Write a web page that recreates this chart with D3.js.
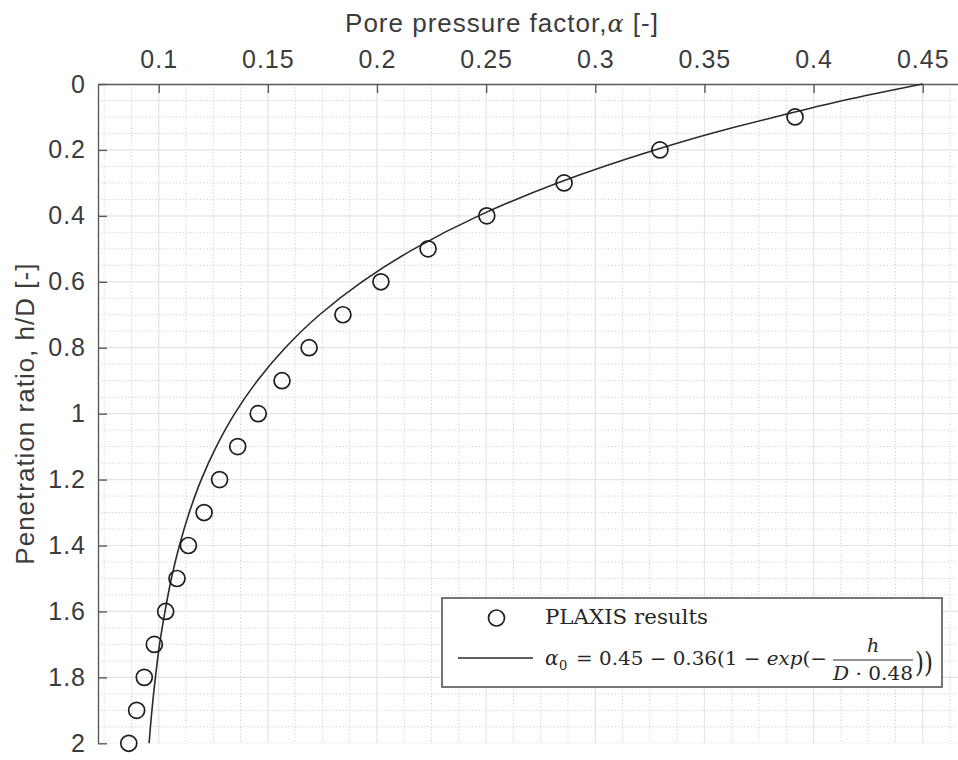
<!DOCTYPE html>
<html>
<head>
<meta charset="utf-8">
<script src="https://cdn.jsdelivr.net/npm/d3@7"></script>
<style>
  body { margin: 0; background: #fff; }
  svg { display: block; }
</style>
</head>
<body>
<svg id="chart"></svg>
<script>
  // Chart size.
  const width = 958;
  const height = 760;

  // PLAXIS results (depth ratio h/D and pore pressure factor).
  const plaxisDepth = [0.1, 0.2, 0.3, 0.4, 0.5, 0.6, 0.7, 0.8, 0.9, 1.0,
                       1.1, 1.2, 1.3, 1.4, 1.5, 1.6, 1.7, 1.8, 1.9, 2.0];
  const plaxisAlpha = [0.3915, 0.3296, 0.2857, 0.2503, 0.2234, 0.2018, 0.1844, 0.1689, 0.1565, 0.1456,
                       0.1362, 0.1279, 0.1208, 0.1136, 0.1084, 0.1032, 0.0980, 0.0934, 0.0899, 0.0863];

  // Fitted curve.
  const curveDepth = [0, 0.05, 0.1, 0.15, 0.2, 0.3, 0.4, 0.5, 0.6, 0.7, 0.8, 0.9, 1.0,
                      1.1, 1.2, 1.3, 1.4, 1.5, 1.6, 1.7, 1.8, 1.9, 2.0];
  const curveAlpha = [0.45, 0.4135, 0.3823, 0.3530, 0.3273, 0.2827, 0.2465, 0.2170, 0.1931, 0.1737, 0.1580, 0.1452, 0.1348,
                      0.1264, 0.1195, 0.1140, 0.1095, 0.1058, 0.1029, 0.1004, 0.0985, 0.0969, 0.0956];

  // Tick labels.
  const xTicks = [0.1, 0.15, 0.2, 0.25, 0.3, 0.35, 0.4, 0.45];
  const xTickLabels = ["0.1", "0.15", "0.2", "0.25", "0.3", "0.35", "0.4", "0.45"];
  const yTicks = [0, 0.2, 0.4, 0.6, 0.8, 1, 1.2, 1.4, 1.6, 1.8, 2];
  const yTickLabels = ["0", "0.2", "0.4", "0.6", "0.8", "1", "1.2", "1.4", "1.6", "1.8", "2"];

  const plotLeft = 98, plotTop = 84, plotBottom = 743.3;

  const x = d3.scaleLinear().domain([0.0722, 0.47]).range([plotLeft, plotLeft + 0.3978 * 2183]);
  const y = d3.scaleLinear().domain([0, 2]).range([plotTop, plotBottom]);

  const svg = d3.select("#chart")
      .attr("width", width)
      .attr("height", height)
      .attr("viewBox", `0 0 ${width} ${height}`);

  svg.append("defs").append("clipPath").attr("id", "plot")
    .append("rect")
      .attr("x", plotLeft).attr("y", plotTop)
      .attr("width", x.range()[1] - plotLeft).attr("height", plotBottom - plotTop);

  // Grid: minor dotted, then major solid.
  const xMinor = d3.range(0, 33).map(i => 0.075 + i * 0.0125)
      .filter(v => v < 0.47 && !xTicks.some(t => Math.abs(t - v) < 1e-6));
  const yMinor = d3.range(0, 41).map(i => i * 0.05)
      .filter(v => !yTicks.some(t => Math.abs(t - v) < 1e-6));

  const grid = svg.append("g").attr("clip-path", "url(#plot)");
  grid.selectAll(".xm").data(xMinor).join("line")
      .attr("x1", d => x(d)).attr("x2", d => x(d))
      .attr("y1", plotTop).attr("y2", plotBottom)
      .attr("stroke", "#cdcdcd").attr("stroke-dasharray", "1.2,2.2");
  grid.selectAll(".ym").data(yMinor).join("line")
      .attr("x1", plotLeft).attr("x2", width)
      .attr("y1", d => y(d)).attr("y2", d => y(d))
      .attr("stroke", "#cdcdcd").attr("stroke-dasharray", "1.2,2.2");
  grid.selectAll(".xg").data(xTicks).join("line")
      .attr("x1", d => x(d)).attr("x2", d => x(d))
      .attr("y1", plotTop).attr("y2", plotBottom)
      .attr("stroke", "#e4e4e4").attr("stroke-width", 1.2);
  grid.selectAll(".yg").data(yTicks).join("line")
      .attr("x1", plotLeft).attr("x2", width)
      .attr("y1", d => y(d)).attr("y2", d => y(d))
      .attr("stroke", "#e4e4e4").attr("stroke-width", 1.2);

  // Axes.
  const axisColor = "#5a5a5a";
  const textColor = "#3c3c3c";
  const tickFont = "Liberation Sans, Arial, sans-serif";

  const xAxis = svg.append("g")
      .attr("transform", `translate(0,${plotTop})`)
      .call(d3.axisTop(x).tickValues(xTicks).tickSizeInner(-9).tickSizeOuter(0).tickPadding(16)
        .tickFormat((d, i) => xTickLabels[i]));
  const yAxis = svg.append("g")
      .attr("transform", `translate(${plotLeft},0)`)
      .call(d3.axisLeft(y).tickValues(yTicks).tickSizeInner(-9).tickSizeOuter(0).tickPadding(12)
        .tickFormat((d, i) => yTickLabels[i]));

  [xAxis, yAxis].forEach(a => {
    a.select(".domain").attr("stroke", axisColor).attr("stroke-width", 1.4);
    a.selectAll(".tick line").attr("stroke", axisColor).attr("stroke-width", 1.4);
    a.selectAll(".tick text")
      .attr("fill", textColor)
      .style("font-family", tickFont)
      .style("font-size", "25px")
      .style("letter-spacing", "1px");
  });

  // Axis titles.
  const xTitle = svg.append("text")
      .attr("x", 502).attr("y", 32)
      .attr("text-anchor", "middle")
      .attr("fill", textColor)
      .style("font-family", tickFont)
      .style("font-size", "26px")
      .style("letter-spacing", "1px");
  xTitle.append("tspan").text("Pore pressure factor,");
  xTitle.append("tspan").style("font-family", "DejaVu Serif, serif").style("font-style", "italic")
      .style("font-size", "24px").text("α");
  xTitle.append("tspan").text(" [-]");

  svg.append("text")
      .attr("transform", `translate(34,${(plotTop + plotBottom) / 2}) rotate(-90)`)
      .attr("text-anchor", "middle")
      .attr("fill", textColor)
      .style("font-family", tickFont)
      .style("font-size", "26px")
      .style("letter-spacing", "1px")
      .text("Penetration ratio, h/D [-]");

  // Fitted curve.
  const line = d3.line()
      .x((d, i) => x(curveAlpha[i]))
      .y(d => y(d))
      .curve(d3.curveMonotoneY);
  svg.append("path")
      .datum(curveDepth)
      .attr("d", line)
      .attr("fill", "none")
      .attr("stroke", "#2a2a2a")
      .attr("stroke-width", 1.6);

  // PLAXIS points.
  svg.append("g").selectAll("circle")
    .data(plaxisDepth)
    .join("circle")
      .attr("cx", (d, i) => x(plaxisAlpha[i]))
      .attr("cy", d => y(d))
      .attr("r", 8)
      .attr("fill", "none")
      .attr("stroke", "#1e1e1e")
      .attr("stroke-width", 1.7);

  // Legend.
  const serif = "DejaVu Serif, Liberation Serif, serif";
  const legend = svg.append("g");
  legend.append("rect")
      .attr("x", 442).attr("y", 598).attr("width", 500).attr("height", 89)
      .attr("fill", "#fff").attr("stroke", "#555").attr("stroke-width", 1.6);
  legend.append("circle")
      .attr("cx", 496.5).attr("cy", 618).attr("r", 8)
      .attr("fill", "none").attr("stroke", "#1e1e1e").attr("stroke-width", 1.7);
  legend.append("text")
      .attr("x", 545).attr("y", 623.5)
      .attr("fill", "#262626")
      .style("font-family", serif).style("font-size", "19.5px")
      .attr("textLength", 163).attr("lengthAdjust", "spacingAndGlyphs")
      .text("PLAXIS results");

  legend.append("line")
      .attr("x1", 458).attr("x2", 533).attr("y1", 658).attr("y2", 658)
      .attr("stroke", "#2a2a2a").attr("stroke-width", 1.6);

  const mathStyle = t => t.attr("fill", "#262626").style("font-family", serif);
  legend.append("text").attr("x", 545).attr("y", 665).call(mathStyle)
      .style("font-size", "20px").style("font-style", "italic").text("α");
  legend.append("text").attr("x", 559).attr("y", 670).call(mathStyle)
      .style("font-size", "13px").text("0");
  const eq = legend.append("text").attr("x", 576).attr("y", 665).call(mathStyle)
      .style("font-size", "19px")
      .attr("textLength", 251).attr("lengthAdjust", "spacingAndGlyphs");
  eq.append("tspan").text("= 0.45 − 0.36(1 − ");
  eq.append("tspan").style("font-style", "italic").text("exp");
  eq.append("tspan").text("(−");

  legend.append("text").attr("x", 873).attr("y", 652).attr("text-anchor", "middle").call(mathStyle)
      .style("font-size", "19px").style("font-style", "italic").text("h");
  legend.append("line")
      .attr("x1", 833).attr("x2", 913).attr("y1", 660).attr("y2", 660)
      .attr("stroke", "#262626").attr("stroke-width", 1.1);
  const den = legend.append("text").attr("x", 833).attr("y", 680).call(mathStyle)
      .style("font-size", "19px")
      .attr("textLength", 80).attr("lengthAdjust", "spacingAndGlyphs");
  den.append("tspan").style("font-style", "italic").text("D");
  den.append("tspan").text(" · 0.48");
  legend.append("text").attr("x", 915).attr("y", 672).call(mathStyle)
      .style("font-size", "27px")
      .attr("textLength", 18).attr("lengthAdjust", "spacingAndGlyphs")
      .text("))");
</script>
</body>
</html>
